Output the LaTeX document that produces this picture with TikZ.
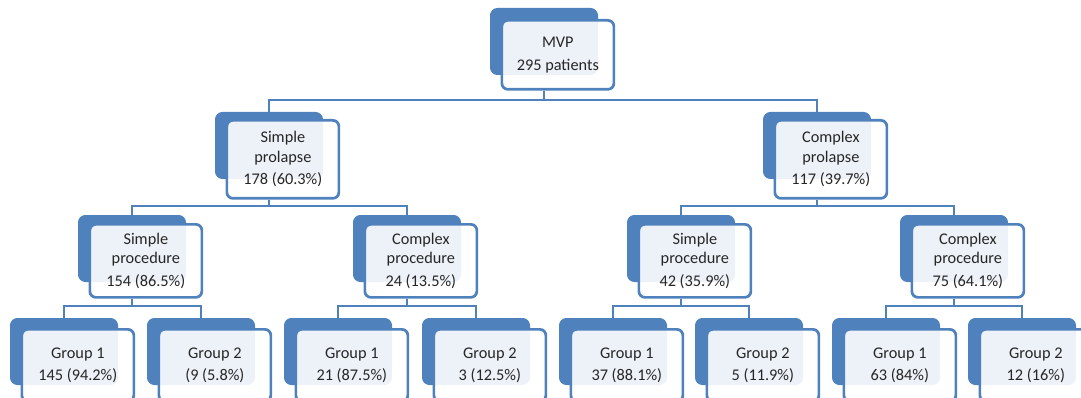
\documentclass[tikz,border=0pt]{standalone}
\usepackage{fontspec}
\setmainfont{Carlito}
\definecolor{smblue}{HTML}{4F81BD}
\tikzset{
  backbox/.style={fill=smblue, draw=smblue, line width=1pt, rounded corners=7pt,
    minimum width=107pt, minimum height=66pt, inner sep=0pt, anchor=north west},
  frontbox/.style={fill=white, fill opacity=0.9, draw=smblue, draw opacity=1,
    text opacity=1, line width=2.7pt, rounded corners=6pt, minimum width=112pt,
    inner sep=0pt, anchor=north west, align=center,
    font=\fontsize{16.3pt}{19.5pt}\selectfont, text=black!85},
  link/.style={draw=smblue, line width=2.7pt}
}
\newcommand\orgnode[6]{%
  \node[backbox] (#1b) at (#2,#3) {};
  \node[frontbox, minimum height=#5pt] (#1) at ({#2+10.5},{#3+#4}) {#6};
}
\begin{document}
\begin{tikzpicture}[x=1pt,y=-1pt]
\useasboundingbox (0,0) rectangle (1081,398);
% level 1
\orgnode{mvp}{490}{8}{11}{69}{MVP\\[3pt]295 patients}
% level 2
\orgnode{sp}{215}{112}{7}{78}{Simple\\prolapse\\[3pt]178 (60.3\%)}
\orgnode{cp}{763}{112}{7}{78}{Complex\\prolapse\\[3pt]117 (39.7\%)}
% level 3
\orgnode{ssp}{78}{215}{8}{73}{Simple\\procedure\\[3pt]154 (86.5\%)}
\orgnode{scp}{353}{215}{8}{73}{Complex\\procedure\\[3pt]24 (13.5\%)}
\orgnode{csp}{627}{215}{8}{73}{Simple\\procedure\\[3pt]42 (35.9\%)}
\orgnode{ccp}{900}{215}{8}{73}{Complex\\procedure\\[3pt]75 (64.1\%)}
% level 4
\orgnode{ga}{10}{318}{10}{72}{Group 1\\[3pt]145 (94.2\%)}
\orgnode{gb}{147}{318}{10}{72}{Group 2\\[3pt](9 (5.8\%)}
\orgnode{gc}{284}{318}{10}{72}{Group 1\\[3pt]21 (87.5\%)}
\orgnode{gd}{422}{318}{10}{72}{Group 2\\[3pt]3 (12.5\%)}
\orgnode{ge}{559}{318}{10}{72}{Group 1\\[3pt]37 (88.1\%)}
\orgnode{gf}{695}{318}{10}{72}{Group 2\\[3pt]5 (11.9\%)}
\orgnode{gg}{832}{318}{10}{72}{Group 1\\[3pt]63 (84\%)}
\orgnode{gh}{968}{318}{10}{72}{Group 2\\[3pt]12 (16\%)}
% bus levels
\coordinate (busa) at (0,100);
\coordinate (busb) at (0,206);
\coordinate (busc) at (0,306);
% connectors level 1-2
\draw[link] (mvpb.center |- mvp.south) -- (mvpb.center |- busa);
\draw[link] (spb.north) -- (spb.north |- busa) -- (cpb.north |- busa) -- (cpb.north);
% level 2-3
\draw[link] (spb.center |- sp.south) -- (spb.center |- busb);
\draw[link] (sspb.north) -- (sspb.north |- busb) -- (scpb.north |- busb) -- (scpb.north);
\draw[link] (cpb.center |- cp.south) -- (cpb.center |- busb);
\draw[link] (cspb.north) -- (cspb.north |- busb) -- (ccpb.north |- busb) -- (ccpb.north);
% level 3-4
\draw[link] (sspb.center |- ssp.south) -- (sspb.center |- busc);
\draw[link] (gab.north) -- (gab.north |- busc) -- (gbb.north |- busc) -- (gbb.north);
\draw[link] (scpb.center |- scp.south) -- (scpb.center |- busc);
\draw[link] (gcb.north) -- (gcb.north |- busc) -- (gdb.north |- busc) -- (gdb.north);
\draw[link] (cspb.center |- csp.south) -- (cspb.center |- busc);
\draw[link] (geb.north) -- (geb.north |- busc) -- (gfb.north |- busc) -- (gfb.north);
\draw[link] (ccpb.center |- ccp.south) -- (ccpb.center |- busc);
\draw[link] (ggb.north) -- (ggb.north |- busc) -- (ghb.north |- busc) -- (ghb.north);
\end{tikzpicture}
\end{document}
